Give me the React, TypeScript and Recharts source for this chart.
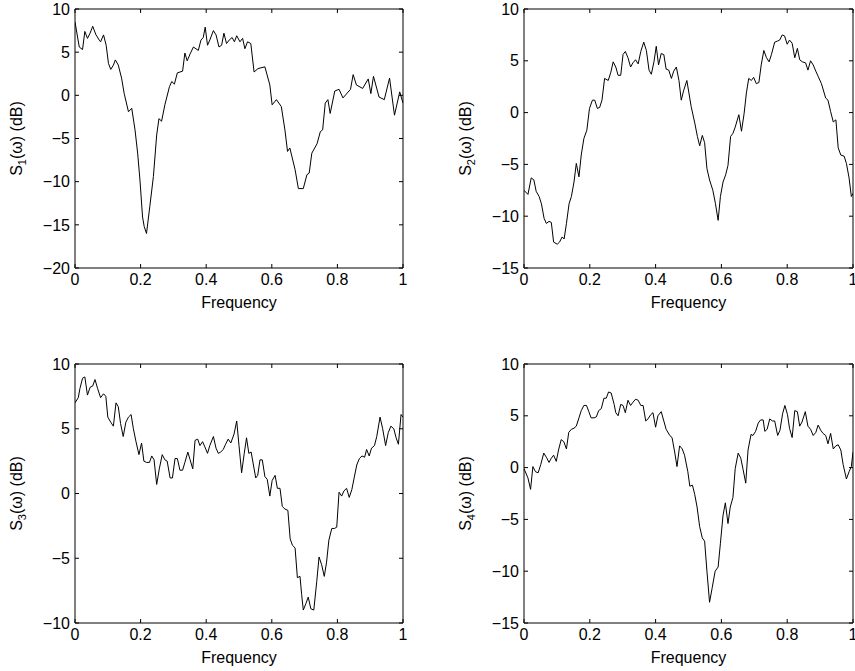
import React from 'react';
import { LineChart, Line, XAxis, YAxis } from 'recharts';

const freqTicks = [0, 0.2, 0.4, 0.6, 0.8, 1];
const s1Ticks = [-20, -15, -10, -5, 0, 5, 10];
const s2Ticks = [-15, -10, -5, 0, 5, 10];
const s3Ticks = [-10, -5, 0, 5, 10];
const s4Ticks = [-15, -10, -5, 0, 5, 10];

const s1Freq = [
  0, 0.013, 0.023, 0.03, 0.038, 0.046, 0.054, 0.064, 0.074, 0.078,
  0.087, 0.095, 0.102, 0.109, 0.117, 0.123, 0.132, 0.142, 0.15, 0.163,
  0.173, 0.183, 0.191, 0.198, 0.206, 0.211, 0.218, 0.228, 0.239, 0.249,
  0.256, 0.264, 0.274, 0.288, 0.295, 0.303, 0.312, 0.328, 0.335, 0.342,
  0.351, 0.361, 0.376, 0.384, 0.391, 0.397, 0.404, 0.411, 0.422, 0.43,
  0.439, 0.447, 0.454, 0.462, 0.47, 0.479, 0.486, 0.493, 0.503, 0.511,
  0.518, 0.526, 0.536, 0.546, 0.558, 0.579, 0.594, 0.601, 0.614, 0.629,
  0.64, 0.648, 0.655, 0.671, 0.681, 0.696, 0.707, 0.714, 0.722, 0.738,
  0.748, 0.755, 0.763, 0.771, 0.778, 0.792, 0.805, 0.817, 0.84, 0.848,
  0.858, 0.877, 0.894, 0.902, 0.91, 0.927, 0.943, 0.959, 0.974, 0.99,
  1.0,
];
const s1Db = [
  8.5, 5.6, 5.3, 7.4, 6.6, 7.2, 8.0, 7.0, 6.4, 6.2,
  7.0, 5.8, 3.7, 3.0, 3.5, 4.1, 3.5, 2.0, 0.2, -1.9,
  -1.5, -4.0, -6.7, -9.8, -14.1, -15.2, -16.0, -12.9, -9.4, -4.6,
  -2.7, -3.0, -1.1, 1.0, 1.6, 1.3, 2.6, 2.8, 4.9, 4.0,
  4.8, 5.6, 5.2, 6.4, 6.7, 7.9, 5.8, 6.4, 7.5, 7.0,
  5.6, 5.8, 7.2, 6.0, 6.4, 6.7, 6.2, 6.9, 6.2, 6.6,
  5.4, 6.2, 6.0, 2.7, 3.1, 3.3, 1.2, -1.1, -0.5, -1.3,
  -4.0, -6.5, -6.1, -8.6, -10.8, -10.8, -9.2, -9.0, -6.7, -5.6,
  -4.2, -4.0, -0.9, -0.5, -2.1, 0.5, 0.7, -0.3, 0.7, 2.4,
  1.2, 0.8, 1.9, 0.2, 2.2, -0.2, -0.5, 2.0, -2.3, 0.4,
  -0.9,
];

const s2Freq = [
  0, 0.012, 0.022, 0.03, 0.037, 0.046, 0.053, 0.061, 0.068, 0.076,
  0.083, 0.09, 0.101, 0.108, 0.116, 0.122, 0.129, 0.137, 0.144, 0.152,
  0.159, 0.167, 0.174, 0.182, 0.191, 0.199, 0.208, 0.215, 0.223, 0.23,
  0.237, 0.245, 0.256, 0.264, 0.271, 0.279, 0.286, 0.294, 0.301, 0.308,
  0.316, 0.324, 0.331, 0.339, 0.347, 0.355, 0.364, 0.372, 0.38, 0.387,
  0.395, 0.402, 0.409, 0.417, 0.425, 0.432, 0.44, 0.448, 0.455, 0.463,
  0.471, 0.478, 0.485, 0.495, 0.508, 0.519, 0.527, 0.534, 0.542, 0.549,
  0.556, 0.564, 0.574, 0.582, 0.59, 0.597, 0.605, 0.613, 0.62, 0.628,
  0.635, 0.642, 0.653, 0.661, 0.669, 0.676, 0.683, 0.691, 0.698, 0.706,
  0.714, 0.721, 0.729, 0.737, 0.745, 0.752, 0.762, 0.77, 0.777, 0.785,
  0.792, 0.8, 0.807, 0.815, 0.823, 0.831, 0.838, 0.846, 0.856, 0.863,
  0.871, 0.879, 0.887, 0.894, 0.904, 0.917, 0.924, 0.932, 0.94, 0.948,
  0.955, 0.963, 0.973, 0.98, 0.988, 0.995, 1.0,
];
const s2Db = [
  -7.5, -7.9, -6.3, -6.5, -7.6, -8.1, -8.8, -10.2, -10.7, -10.5,
  -10.6, -12.5, -12.7, -12.5, -12.0, -12.2, -10.7, -8.8, -8.1, -6.7,
  -4.9, -6.2, -4.1, -2.5, -1.7, 0.4, 1.2, 1.2, 0.4, 0.5,
  1.2, 3.3, 3.1, 3.9, 4.9, 4.4, 3.6, 3.6, 5.6, 5.9,
  5.3, 4.4, 4.8, 5.1, 4.7, 5.9, 6.8, 6.0, 4.1, 3.7,
  4.9, 6.4, 4.6, 5.7, 5.6, 4.2, 4.1, 3.3, 4.0, 4.4,
  3.1, 1.2, 2.1, 3.1, 0.6, -1.0, -2.3, -3.2, -2.2, -2.9,
  -5.4, -6.5, -7.5, -8.8, -10.4, -8.1, -6.7, -6.0, -5.1, -2.3,
  -2.0, -1.4, -0.2, -1.8, -0.1, 1.9, 3.3, 3.1, 3.4, 2.8,
  2.9, 4.6, 6.0, 5.3, 4.9, 5.6, 6.8, 6.9, 7.0, 7.5,
  7.4, 6.6, 7.0, 6.7, 5.3, 6.2, 5.1, 4.9, 4.8, 4.1,
  5.0, 4.6, 4.0, 3.5, 2.8, 1.4, 1.2, 0.1, -0.9, -0.7,
  -3.4, -4.1, -4.2, -4.9, -6.3, -8.1, -7.8,
];

const s3Freq = [
  0, 0.01, 0.015, 0.023, 0.03, 0.038, 0.046, 0.054, 0.061, 0.069,
  0.078, 0.087, 0.094, 0.1, 0.109, 0.117, 0.125, 0.132, 0.139, 0.147,
  0.155, 0.163, 0.171, 0.178, 0.186, 0.195, 0.203, 0.21, 0.218, 0.227,
  0.234, 0.241, 0.249, 0.257, 0.266, 0.274, 0.281, 0.29, 0.297, 0.305,
  0.312, 0.32, 0.328, 0.335, 0.344, 0.351, 0.359, 0.366, 0.374, 0.381,
  0.389, 0.396, 0.404, 0.411, 0.422, 0.43, 0.437, 0.444, 0.452, 0.459,
  0.467, 0.475, 0.485, 0.493, 0.5, 0.508, 0.516, 0.523, 0.53, 0.537,
  0.551, 0.557, 0.564, 0.571, 0.579, 0.586, 0.594, 0.601, 0.61, 0.617,
  0.625, 0.632, 0.64, 0.649, 0.656, 0.663, 0.671, 0.678, 0.686, 0.691,
  0.696, 0.704, 0.711, 0.719, 0.728, 0.737, 0.744, 0.752, 0.76, 0.767,
  0.774, 0.783, 0.791, 0.798, 0.805, 0.813, 0.82, 0.828, 0.836, 0.844,
  0.851, 0.859, 0.867, 0.875, 0.883, 0.889, 0.897, 0.904, 0.913, 0.92,
  0.93, 0.938, 0.947, 0.955, 0.963, 0.972, 0.979, 0.986, 0.994, 1.0,
];
const s3Db = [
  7.0, 7.4, 8.1, 8.9, 9.0, 7.6, 8.2, 8.3, 8.8, 8.1,
  7.4, 7.7, 7.5, 5.9, 5.5, 5.2, 7.0, 6.7, 5.4, 4.4,
  5.5, 5.9, 6.1, 5.0, 4.0, 3.0, 3.9, 2.5, 2.4, 2.4,
  2.9, 2.6, 0.7, 1.9, 3.0, 2.6, 2.5, 1.2, 1.2, 2.7,
  2.7, 1.8, 1.8, 2.4, 3.2, 2.6, 1.9, 4.1, 4.2, 3.7,
  4.0, 3.6, 3.1, 3.7, 4.4, 3.5, 3.1, 3.2, 3.4, 3.8,
  4.2, 3.9, 4.6, 5.6, 3.7, 1.6, 3.1, 4.3, 3.1, 3.2,
  1.2, 1.4, 2.6, 2.6, 1.3, 1.1, -0.2, 1.0, 1.4, 0.4,
  0.4, -1.0, -1.2, -1.3, -3.5, -4.0, -4.2, -6.5, -6.4, -7.8,
  -9.0, -8.5, -8.0, -8.9, -9.0, -6.8, -4.9, -5.5, -6.4, -5.3,
  -3.6, -2.7, -2.7, -2.6, 0.1, -0.2, 0.2, 0.4, -0.3, 0.3,
  1.2, 2.2, 2.7, 2.9, 2.8, 3.4, 2.9, 3.5, 3.7, 4.4,
  5.9, 5.0, 3.7, 4.7, 5.2, 5.0, 4.3, 3.8, 6.1, 5.9,
];

const s4Freq = [
  0, 0.012, 0.02, 0.027, 0.035, 0.043, 0.051, 0.06, 0.068, 0.076,
  0.083, 0.09, 0.098, 0.105, 0.113, 0.121, 0.129, 0.136, 0.144, 0.152,
  0.159, 0.167, 0.174, 0.182, 0.19, 0.197, 0.204, 0.213, 0.22, 0.227,
  0.235, 0.243, 0.25, 0.257, 0.265, 0.274, 0.279, 0.286, 0.294, 0.301,
  0.308, 0.316, 0.324, 0.331, 0.339, 0.347, 0.355, 0.362, 0.37, 0.377,
  0.385, 0.392, 0.4, 0.407, 0.417, 0.425, 0.432, 0.443, 0.45, 0.458,
  0.465, 0.473, 0.481, 0.488, 0.498, 0.504, 0.512, 0.519, 0.526, 0.534,
  0.542, 0.549, 0.556, 0.564, 0.572, 0.581, 0.59, 0.597, 0.605, 0.612,
  0.62, 0.627, 0.635, 0.642, 0.651, 0.659, 0.666, 0.674, 0.681, 0.69,
  0.696, 0.704, 0.712, 0.719, 0.727, 0.732, 0.739, 0.747, 0.755, 0.762,
  0.771, 0.778, 0.786, 0.793, 0.801, 0.807, 0.815, 0.823, 0.831, 0.838,
  0.845, 0.855, 0.863, 0.871, 0.879, 0.887, 0.894, 0.902, 0.909, 0.917,
  0.924, 0.932, 0.94, 0.948, 0.955, 0.963, 0.97, 0.98, 0.988, 0.995,
  1.0,
];
const s4Db = [
  -0.1, -1.0, -2.1, 0.1, -0.4, -0.5, 0.3, 1.4, 1.0, 0.5,
  0.9, 1.2, 0.6, 1.7, 2.7, 2.5, 1.8, 3.4, 3.7, 3.8,
  4.0, 4.8, 5.5, 6.0, 6.0, 5.4, 4.8, 4.8, 4.9, 5.5,
  5.7, 6.7, 6.7, 7.3, 7.2, 6.1, 5.3, 5.0, 6.1, 6.0,
  5.3, 6.5, 6.0, 6.3, 6.6, 6.5, 6.0, 6.0, 4.5, 4.7,
  5.1, 5.3, 3.9, 5.0, 5.4, 4.5, 3.7, 3.1, 2.9, 1.5,
  0.1, 2.1, 1.8, 1.2, -0.4, -1.8, -1.7, -2.6, -3.8, -5.7,
  -6.8, -7.1, -10.0, -13.0, -11.6, -10.0, -9.6, -7.3, -4.6, -3.4,
  -5.4, -3.8, -2.9, -0.1, 1.4, 0.9, -0.2, -1.5, 1.7, 3.2,
  3.1, 3.5, 4.3, 4.6, 4.6, 3.5, 3.7, 4.7, 4.5, 4.5,
  3.1, 3.6, 5.2, 6.0, 5.1, 3.8, 2.9, 5.5, 5.4, 4.0,
  4.4, 5.4, 4.0, 3.7, 3.1, 3.4, 4.1, 3.6, 3.3, 3.1,
  2.3, 3.3, 1.8, 2.1, 2.2, 1.7, 0.3, -1.1, -0.4, 0.1,
  1.5,
];

const FONT = '"Liberation Sans", Arial, Helvetica, sans-serif';
const FS = 16;

const fmt = (v: number) => (v < 0 ? '\u2212' + Math.abs(v) : String(v));
const blank = () => '';

function YLabel(props: any) {
  const vb = props.viewBox || { x: 0, y: 0, width: 75, height: 259 };
  const cx = vb.x + 22;
  const cy = vb.y + vb.height / 2;
  return (
    <text
      x={cx}
      y={cy}
      transform={`rotate(-90, ${cx}, ${cy})`}
      textAnchor="middle"
      fill="#000"
      fontFamily={FONT}
      fontSize={FS}
    >
      S
      <tspan dy={4} fontSize={11}>
        {props.sub}
      </tspan>
      <tspan dy={-4}>(ω) (dB)</tspan>
    </text>
  );
}

function XLabel(props: any) {
  const vb = props.viewBox || { x: 0, y: 0, width: 328, height: 45 };
  return (
    <text
      x={vb.x + vb.width / 2}
      y={vb.y + 40}
      textAnchor="middle"
      fill="#000"
      fontFamily={FONT}
      fontSize={FS}
    >
      Frequency
    </text>
  );
}

type PanelProps = {
  left: number;
  top: number;
  width: number;
  height: number;
  mt: number;
  mr: number;
  freq: number[];
  db: number[];
  yTicks: number[];
  sub: string;
};

function Panel({ left, top, width, height, mt, mr, freq, db, yTicks, sub }: PanelProps) {
  const n = Math.min(freq.length, db.length);
  const data = freq.slice(0, n).map((f, i) => ({ f, v: db[i] }));
  const yDomain = [yTicks[0], yTicks[yTicks.length - 1]];
  const axisLine = { stroke: '#000', strokeWidth: 1 };
  const tickLine = { stroke: '#000', strokeWidth: 1 };
  const tickStyle = { fill: '#000', fontSize: FS, fontFamily: FONT };
  return (
    <div style={{ position: 'absolute', left, top, width, height }}>
      <LineChart width={width} height={height} data={data} margin={{ top: mt - 1, right: mr - 1, bottom: 0, left: 0 }}>
        <XAxis
          dataKey="f"
          type="number"
          domain={[0, 1]}
          ticks={freqTicks}
          interval={0}
          allowDataOverflow
          height={45}
          tickSize={-4}
          tickMargin={10}
          tickFormatter={fmt}
          axisLine={axisLine}
          tickLine={tickLine}
          tick={tickStyle}
          label={<XLabel />}
        />
        <XAxis
          xAxisId="top"
          orientation="top"
          dataKey="f"
          type="number"
          domain={[0, 1]}
          ticks={freqTicks}
          interval={0}
          allowDataOverflow
          height={1}
          tickSize={-4}
          tickMargin={0}
          tickFormatter={blank}
          axisLine={axisLine}
          tickLine={tickLine}
          tick={tickStyle}
        />
        <YAxis
          type="number"
          domain={yDomain}
          ticks={yTicks}
          interval={0}
          allowDataOverflow
          width={75}
          tickSize={-4}
          tickMargin={9}
          tickFormatter={fmt}
          axisLine={axisLine}
          tickLine={tickLine}
          tick={tickStyle}
          label={<YLabel sub={sub} />}
        />
        <YAxis
          yAxisId="right"
          orientation="right"
          type="number"
          domain={yDomain}
          ticks={yTicks}
          interval={0}
          allowDataOverflow
          width={1}
          tickSize={-4}
          tickMargin={0}
          tickFormatter={blank}
          axisLine={axisLine}
          tickLine={tickLine}
          tick={tickStyle}
        />
        <Line
          xAxisId="top"
          yAxisId="right"
          type="linear"
          dataKey="v"
          stroke="none"
          strokeWidth={0}
          dot={false}
          activeDot={false}
          legendType="none"
          isAnimationActive={false}
        />
        <Line
          type="linear"
          dataKey="v"
          stroke="#000"
          strokeWidth={1}
          dot={false}
          activeDot={false}
          isAnimationActive={false}
        />
      </LineChart>
    </div>
  );
}

export default function App() {
  return (
    <div style={{ position: 'absolute', left: 0, top: 0, width: 855, height: 671, background: '#fff', overflow: 'hidden' }}>
      <Panel left={0} top={0} width={420} height={313} mt={9} mr={17} freq={s1Freq} db={s1Db} yTicks={s1Ticks} sub="1" />
      <Panel left={449} top={0} width={406} height={313} mt={9} mr={2} freq={s2Freq} db={s2Db} yTicks={s2Ticks} sub="2" />
      <Panel left={0} top={340} width={420} height={328} mt={24} mr={17} freq={s3Freq} db={s3Db} yTicks={s3Ticks} sub="3" />
      <Panel left={449} top={340} width={406} height={328} mt={24} mr={2} freq={s4Freq} db={s4Db} yTicks={s4Ticks} sub="4" />
    </div>
  );
}
